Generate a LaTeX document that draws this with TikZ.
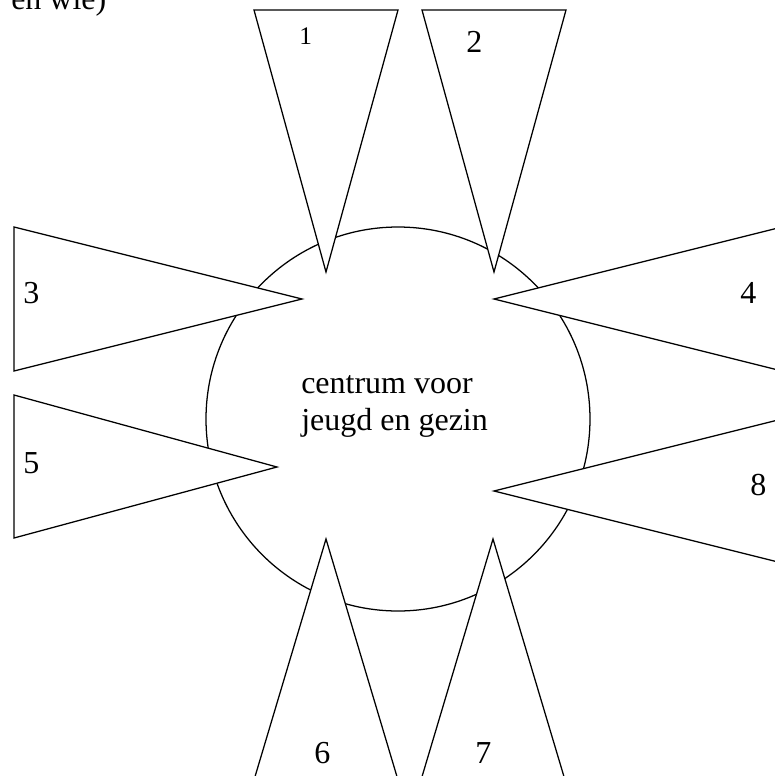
\documentclass[tikz,border=0pt]{standalone}
\usepackage{fontspec}
\setmainfont{Liberation Serif}
\begin{document}
\begin{tikzpicture}[x=0.75pt,y=-0.75pt,
  tri/.style={draw=black,fill=white,line width=0.95pt,line join=miter},
  ring/.style={draw=black,line width=0.95pt},
  lbl/.style={font=\fontsize{24}{28}\selectfont,inner sep=0pt,anchor=base west},
  smalllbl/.style={font=\fontsize{19}{23}\selectfont,inner sep=0pt,anchor=base west}]
\useasboundingbox (0,0) rectangle (775,776);
\clip (0,0) rectangle (775,776);
% central circle
\draw[ring] (398,419) circle[radius=192];
% top triangles
\draw[tri] (254,10) -- (398,10) -- (326,272) -- cycle;
\draw[tri] (422,10) -- (566,10) -- (494,272) -- cycle;
% left triangles
\draw[tri] (14,227) -- (302,299) -- (14,371) -- cycle;
\draw[tri] (14,395) -- (277,467) -- (14,538) -- cycle;
% right triangles
\draw[tri] (782,227) -- (494,299) -- (782,371) -- cycle;
\draw[tri] (782,419) -- (494,491) -- (782,563) -- cycle;
% bottom triangles
\draw[tri] (254,780) -- (326,539) -- (398,780) -- cycle;
\draw[tri] (421,780) -- (493,539) -- (565,780) -- cycle;
% labels
\node[lbl] (hdr) at (11,9) {en wie)};
\node[smalllbl] (l1) at (299,44) {1};
\node[lbl] (l2) at (466,52) {2};
\node[lbl] (l3) at (23,303) {3};
\node[lbl] (l4) at (740,303) {4};
\node[lbl] (l5) at (23,473) {5};
\node[lbl] (l8) at (750,495) {8};
\node[lbl] (l6) at (314,763) {6};
\node[lbl] (l7) at (475,763) {7};
\node[lbl] (c1) at (301,393) {centrum voor};
\node[lbl] (c2) at (301,430) {jeugd en gezin};
\end{tikzpicture}
\end{document}
